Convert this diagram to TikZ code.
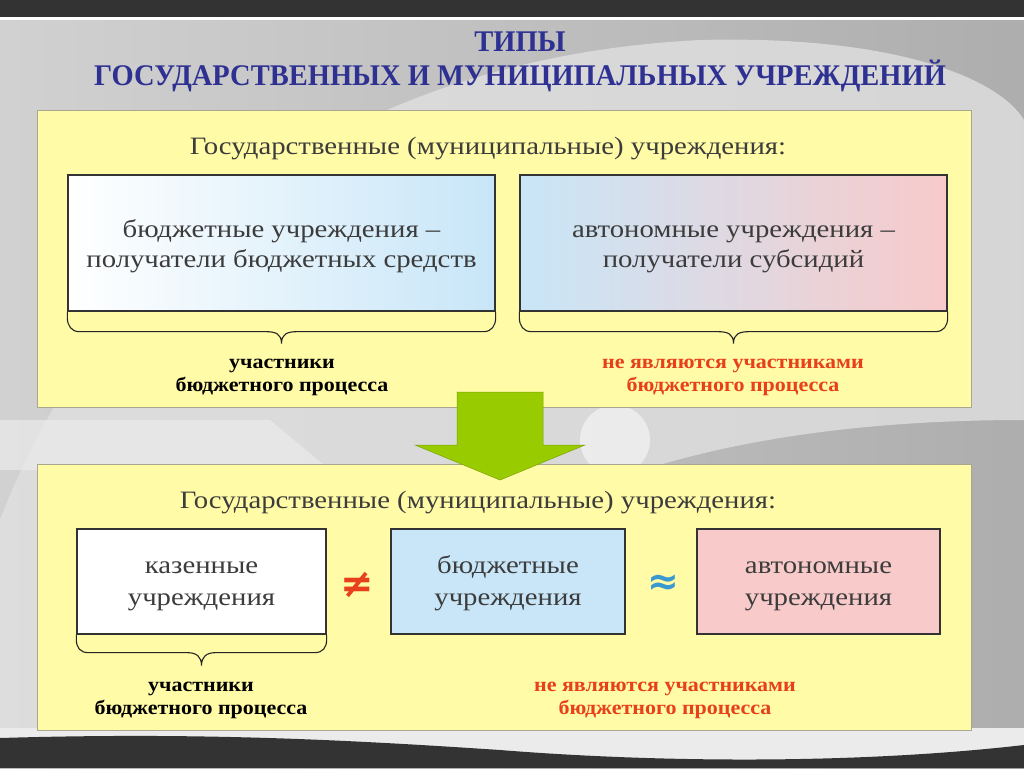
\documentclass[tikz,border=0pt]{standalone}
\usepackage{fontspec}
\setmainfont{Liberation Serif}
\newfontfamily\titlefont[FakeStretch=0.95]{Liberation Serif}
\newfontfamily\bodyfont[FakeStretch=1.15]{Liberation Serif}
\newfontfamily\lblfont[FakeStretch=1.1]{Liberation Serif}
\newfontfamily\symfont{DejaVu Sans}
\usetikzlibrary{calc}
\definecolor{panelY}{HTML}{FFFBA6}
\definecolor{panelEdge}{HTML}{A8A890}
\definecolor{darkband}{HTML}{333333}
\definecolor{titleblue}{HTML}{2E3192}
\definecolor{bodygray}{HTML}{3C3C3C}
\definecolor{lblue}{HTML}{C8E6F8}
\definecolor{lpink}{HTML}{F8CACA}
\definecolor{redlbl}{HTML}{E8401C}
\definecolor{arrowgreen}{HTML}{99CC00}
\definecolor{approxblue}{HTML}{3A9AD0}
\newcommand{\sline}{\strut}
\tikzset{
  panel/.style={draw=panelEdge, line width=0.8pt, fill=panelY},
  ibox/.style={draw=black!80, line width=1.3pt, minimum height=#1, inner sep=0pt},
  boxtext/.style={text=bodygray, align=center, inner sep=0pt, font=\bodyfont\fontsize{25}{#1}\selectfont},
  heading/.style={text=bodygray, anchor=base, inner sep=0pt, font=\bodyfont\fontsize{25}{30}\selectfont},
  titletext/.style={text=titleblue, anchor=base, inner sep=0pt, font=\titlefont\bfseries\fontsize{30}{34}\selectfont},
  lbl/.style={font=\lblfont\bfseries\fontsize{20}{23}\selectfont, align=center, inner sep=0pt, text=#1},
  bracepath/.style={draw=black!85, line width=1.1pt},
}
\begin{document}
\begin{tikzpicture}[x=1pt,y=-1pt]
\useasboundingbox (0,0) rectangle (1024,768);
% background
\fill[black!25] (0,0) rectangle (1024,768);
\shade[left color=black!18, right color=black!32] (0,20) rectangle (1024,768);
\fill[black!12, opacity=0.8] (-60,760) .. controls (0,300) and (300,60) .. (700,40)
   .. controls (900,35) and (1000,80) .. (1024,120) -- (1024,420) .. controls (700,420) and (400,500) .. (300,768) -- cycle;
\fill[black!8, opacity=0.7] (0,420) -- (270,420) -- (330,470) -- (0,470) -- cycle;
\fill[white, opacity=0.5] (615,440) circle (35);
\fill[darkband] (0,0) rectangle (1024,17);
\fill[white] (0,17) rectangle (1024,20);
% bottom wave
\fill[white!92!black] (0,728) rectangle (1024,768);
\fill[darkband] (0,738) .. controls (200,732) and (350,740) .. (500,750)
  .. controls (650,762) and (850,765) .. (1024,745) -- (1024,768) -- (0,768) -- cycle;
% title
\node[titletext] (t1) at (520,52) {ТИПЫ};
\node[titletext] (t2) at (520,85) {ГОСУДАРСТВЕННЫХ И МУНИЦИПАЛЬНЫХ УЧРЕЖДЕНИЙ};
% top panel
\draw[panel] (37,110) rectangle (971,407);
\node[heading] (h1) at (488,154) {Государственные (муниципальные) учреждения:};
\shade[left color=white, right color=lblue] (68,175) rectangle (495,311);
\node[ibox=136pt, minimum width=427pt] (b1) at (281.5,243) {};
\node[boxtext=30] (b1t) at (281.5,246) {\sline бюджетные учреждения –\\\sline получатели бюджетных средств};
\shade[left color=lblue, right color=lpink] (520,175) rectangle (947,311);
\node[ibox=136pt, minimum width=427pt] (b2) at (733.5,243) {};
\node[boxtext=30] (b2t) at (733.5,246) {\sline автономные учреждения –\\\sline получатели субсидий};
% braces
\draw[bracepath] (b1.south west) -- ++(0,6) .. controls +(0,8) and +(-8,0) .. ++(12,14)
  -- ($(b1.south)+(-16,20)$) .. controls +(10,0) and +(0,-10) .. ($(b1.south)+(0,32)$)
  .. controls +(0,-10) and +(-10,0) .. ($(b1.south)+(16,20)$)
  -- ($(b1.south east)+(-12,20)$) .. controls +(8,0) and +(0,8) .. ($(b1.south east)+(0,6)$) -- (b1.south east);
\draw[bracepath] (b2.south west) -- ++(0,6) .. controls +(0,8) and +(-8,0) .. ++(12,14)
  -- ($(b2.south)+(-16,20)$) .. controls +(10,0) and +(0,-10) .. ($(b2.south)+(0,32)$)
  .. controls +(0,-10) and +(-10,0) .. ($(b2.south)+(16,20)$)
  -- ($(b2.south east)+(-12,20)$) .. controls +(8,0) and +(0,8) .. ($(b2.south east)+(0,6)$) -- (b2.south east);
\node[lbl=black] (l1) at (282,375) {\sline участники\\\sline бюджетного процесса};
\node[lbl=redlbl] (l2) at (733,375) {\sline не являются участниками\\\sline бюджетного процесса};
% bottom panel
\draw[panel] (37,464) rectangle (971,730);
% arrow
\fill[arrowgreen, draw=arrowgreen!80!black, line width=0.5pt] (457,392) -- (543,392) -- (543,445) -- (585,445) -- (500,480) -- (415,445) -- (457,445) -- cycle;
\coordinate (arrowtip) at (500,480);
\node[heading] (h2) at (478,508) {Государственные (муниципальные) учреждения:};
\node[ibox=105pt, minimum width=249pt, fill=white] (c1) at (201.5,581.5) {};
\node[boxtext=32] (c1t) at (201.5,583.5) {\sline казенные\\\sline учреждения};
\node[ibox=105pt, minimum width=234pt, fill=lblue] (c2) at (508,581.5) {};
\node[boxtext=32] (c2t) at (508,583.5) {\sline бюджетные\\\sline учреждения};
\node[ibox=105pt, minimum width=243pt, fill=lpink] (c3) at (818.5,581.5) {};
\node[boxtext=32] (c3t) at (818.5,583.5) {\sline автономные\\\sline учреждения};
\node[text=redlbl, inner sep=0pt, font=\symfont\bfseries\fontsize{40}{40}\selectfont] (ne) at (357,585) {≠};
\node[text=approxblue, inner sep=0pt, font=\symfont\bfseries\fontsize{38}{38}\selectfont] (ap) at (663,585) {≈};
\draw[bracepath] (c1.south west) -- ++(0,5) .. controls +(0,8) and +(-8,0) .. ++(12,13)
  -- ($(c1.south)+(-14,18)$) .. controls +(9,0) and +(0,-9) .. ($(c1.south)+(0,31)$)
  .. controls +(0,-9) and +(-9,0) .. ($(c1.south)+(14,18)$)
  -- ($(c1.south east)+(-12,18)$) .. controls +(8,0) and +(0,8) .. ($(c1.south east)+(0,5)$) -- (c1.south east);
\node[lbl=black] (l3) at (201,698) {\sline участники\\\sline бюджетного процесса};
\node[lbl=redlbl] (l4) at (665,698) {\sline не являются участниками\\\sline бюджетного процесса};
\end{tikzpicture}
\end{document}
